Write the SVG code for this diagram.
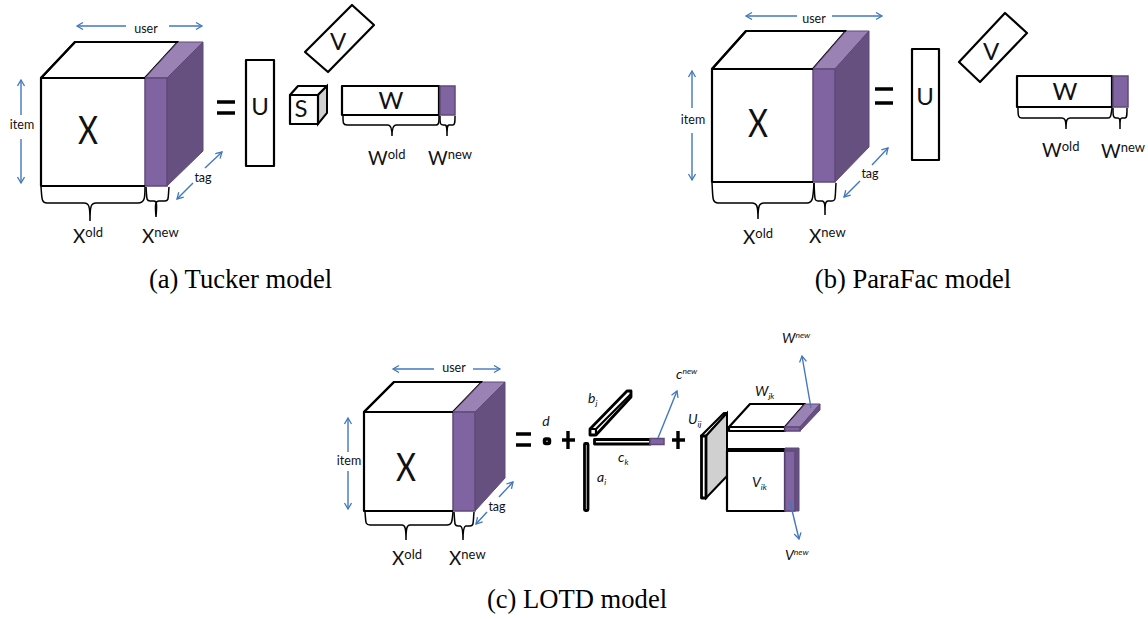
<svg xmlns="http://www.w3.org/2000/svg" width="1148" height="619" viewBox="0 0 1148 619">
<defs>
<marker id="ah" markerWidth="9" markerHeight="9" refX="7" refY="4" orient="auto-start-reverse" markerUnits="userSpaceOnUse"><path d="M1 0.5L7 4L1 7.5" fill="none" stroke="#4178be" stroke-width="1.3"/></marker>
</defs>
<style>
.k{fill:#fff;stroke:#000;stroke-width:2.2;stroke-linejoin:round}
.n{fill:none;stroke:#000;stroke-width:2.2;stroke-linejoin:round}
.t{fill:#fff;stroke:#000;stroke-width:2.2;stroke-linejoin:round}
.h{fill:#fff;stroke:#000;stroke-width:2.8;stroke-linejoin:round}
.b{fill:none;stroke:#000;stroke-width:1.5}
.pf{fill:#8064a2;stroke:#5f497a;stroke-width:1.5}
.pt{fill:#9b82b5;stroke:#5f497a;stroke-width:1}
.pr{fill:#65507f;stroke:#5f497a;stroke-width:1}
.g{fill:#d0d0d0;stroke:#000;stroke-width:2}
.a1{fill:none;stroke:#4178be;stroke-width:1.4;marker-end:url(#ah)}
.e{fill:none;stroke:#000;stroke-width:3.4}
text{font-family:"Lato","Liberation Sans",sans-serif;fill:#111}
.s{font-size:12.5px;text-anchor:middle}
.big{font-size:38px;text-anchor:middle}
.m{font-size:24px;text-anchor:middle}
.x{font-size:19px}
.sup{font-size:13px}
.i{font-style:italic;font-size:14px}
.is{font-style:italic;font-size:8.500px}
.c{font-family:"Liberation Serif","Times New Roman",serif;font-size:26.6px;text-anchor:middle;fill:#000}
</style>

<g id="tensor-a">
<path class="t" d="M41 78L75 42H178L145 78Z"/>
<path class="pt" d="M145 78L178 42H203L167 78Z"/>
<path class="pr" d="M167 78L203 42V151L167 186Z"/>
<rect class="pf" x="145" y="78" width="22" height="108"/>
<path class="n" d="M145 186H41V78H145M41 78L75 42H178"/>
<text class="big" x="88" y="144" textLength="20" lengthAdjust="spacingAndGlyphs">X</text>
<path class="b" d="M41 187C42 197 41 203 47 203H84C89 203 90 206 90 221M90 221C90 206 91 203 96 203H138C145 203 145 197 145 187"/>
<path class="b" d="M146 187C147 198 146 201 150 201H154C157 201 157 205 156 217M156 217C155 205 155 201 159 201H165C169 201 168 198 169 187"/>
<text x="73" y="243"><tspan class="x">X</tspan><tspan class="sup" dy="-6">old</tspan></text>
<text x="142" y="243"><tspan class="x">X</tspan><tspan class="sup" dy="-6">new</tspan></text>
</g>
<g id="labels-a">
<text class="s" x="146" y="33">user</text>
<text class="s" x="22" y="129">item</text>
<text class="s" x="203" y="182">tag</text>
</g>
<g id="factors-a">
<rect class="k" x="246" y="60" width="28" height="106"/>
<text class="m" x="260" y="115">U</text>
<path class="k" d="M305 52L352 5L374 25L328 72Z"/>
<text class="m" x="338" y="50">V</text>
<path class="k" d="M290 95L298 86H327L318 95Z"/>
<path class="g" d="M318 95L327 86V113L318 124Z"/>
<rect class="k" x="290" y="95" width="28" height="29"/>
<text class="m" x="301" y="117">S</text>
<rect class="k" x="342" y="86" width="97" height="29"/>
<rect class="pf" x="440" y="86" width="15" height="29"/>
<text class="m" x="391" y="109">W</text>
<path class="b" d="M343 116C343 123 343 125 347 125H388C391 125 392 128 392 136M392 136C392 128 393 125 396 125H436C439 125 439 122 439 116"/>
<path class="b" d="M440 116C440 123 440 125 443 125H445C447 125 447 128 447 136M447 136C447 128 447 125 449 125H453C455 125 455 122 455 116"/>
<text x="368" y="165"><tspan class="x">W</tspan><tspan class="sup" dy="-6">old</tspan></text>
<text x="428" y="165"><tspan class="x">W</tspan><tspan class="sup" dy="-6">new</tspan></text>
</g>

<g id="tensor-b">
<path class="t" d="M712 69L746 31H846L813 69Z"/>
<path class="pt" d="M813 69L846 31H869L835 69Z"/>
<path class="pr" d="M835 69L869 31V147L835 182Z"/>
<rect class="pf" x="813" y="69" width="22" height="113"/>
<path class="n" d="M813 182H712V69H813M712 69L746 31H846"/>
<text class="big" x="758" y="137" textLength="20" lengthAdjust="spacingAndGlyphs">X</text>
<path class="b" d="M712 183C713 198 712 203 718 203H752C757 203 758 206 758 219M758 219C758 206 759 203 764 203H807C813 203 813 198 814 183"/>
<path class="b" d="M814 183C815 198 814 201 818 201H822C825 201 825 205 825 215M825 215C825 205 825 201 828 201H832C836 201 835 198 836 183"/>
<text x="743" y="244"><tspan class="x">X</tspan><tspan class="sup" dy="-6">old</tspan></text>
<text x="809" y="243"><tspan class="x">X</tspan><tspan class="sup" dy="-6">new</tspan></text>
</g>
<g id="labels-b">
<text class="s" x="814" y="23">user</text>
<text class="s" x="693" y="124">item</text>
<text class="s" x="870" y="178">tag</text>
</g>
<g id="factors-b">
<rect class="k" x="912" y="49" width="27" height="111"/>
<text class="m" x="925" y="105">U</text>
<path class="k" d="M959 62L1005 13L1027 33L980 82Z"/>
<text class="m" x="991" y="60">V</text>
<rect class="k" x="1017" y="76" width="95" height="31"/>
<rect class="pf" x="1113" y="76" width="15" height="31"/>
<text class="m" x="1065" y="100">W</text>
<path class="b" d="M1018 108C1018 115 1018 118 1022 118H1062C1065 118 1066 120 1066 129M1066 129C1066 120 1067 118 1070 118H1108C1111 118 1111 115 1112 108"/>
<path class="b" d="M1113 108C1113 115 1113 118 1116 118H1118C1120 118 1120 120 1120 129M1120 129C1120 120 1120 118 1122 118H1125C1127 118 1127 115 1127 108"/>
<text x="1042" y="157"><tspan class="x">W</tspan><tspan class="sup" dy="-6">old</tspan></text>
<text x="1101" y="158"><tspan class="x">W</tspan><tspan class="sup" dy="-6">new</tspan></text>
</g>

<g id="tensor-c">
<path class="t" d="M364 412L394 382H482L453 412Z"/>
<path class="pt" d="M453 412L482 382H505L475 412Z"/>
<path class="pr" d="M475 412L505 382V478L475 511Z"/>
<rect class="pf" x="453" y="412" width="22" height="99"/>
<path class="n" d="M453 511H364V412H453M364 412L394 382H482"/>
<text class="big" x="406" y="481" textLength="20" lengthAdjust="spacingAndGlyphs">X</text>
<path class="b" d="M365 512C366 522 365 525 370 525H402C405 525 406 528 406 540M406 540C406 528 407 525 410 525H447C452 525 452 522 453 512"/>
<path class="b" d="M454 512C455 523 454 526 458 526H460C462 526 463 530 463 540M463 540C463 530 464 526 466 526H470C474 526 473 523 474 512"/>
<text x="392" y="565"><tspan class="x">X</tspan><tspan class="sup" dy="-6">old</tspan></text>
<text x="449" y="565"><tspan class="x">X</tspan><tspan class="sup" dy="-6">new</tspan></text>
</g>
<g id="labels-c">
<text class="s" x="454" y="372">user</text>
<text class="s" x="349" y="465">item</text>
<text class="s" x="497" y="511">tag</text>
</g>
<g id="factors-c">
<rect x="544.500" y="439" width="5" height="4.500" rx="1.500" fill="#fff" stroke="#000" stroke-width="3.500"/>
<text class="i" x="546" y="426" text-anchor="middle">d</text>
<path class="h" d="M590 429L627 391H631V397L596 435H590Z"/>
<path class="n" d="M590 429H596V435M596 429L631 394"/>
<text class="i" x="588" y="403">b<tspan class="is" dy="3">j</tspan></text>
<rect class="h" x="584.500" y="443.500" width="3.500" height="67" rx="1"/>
<text class="i" x="597" y="482">a<tspan class="is" dy="3">i</tspan></text>
<rect class="h" x="594.500" y="439.500" width="56" height="4.500"/>
<path class="pf" d="M650 438.500H664V444.500H650Z"/>
<text class="i" x="618" y="462">c<tspan class="is" dy="3">k</tspan></text>
<text x="676" y="379" class="i">c<tspan class="is" dy="-5">new</tspan></text>
<path class="k" d="M701 436L724 413H727L706 436Z"/>
<path class="g" d="M706 436L727 413V476L706 498Z"/>
<rect class="h" x="701.500" y="436" width="4.500" height="62"/>
<text class="i" x="688" y="424">U<tspan class="is" dy="3">ij</tspan></text>
<path class="k" d="M729 427L750 404H805L785 427Z"/>
<rect class="k" x="729" y="427" width="56" height="4"/>
<path class="pt" d="M785 427L805 404H820L800 427Z"/>
<path class="pr" d="M800 427L820 404V410L800 431Z"/>
<rect class="pf" x="785" y="427" width="15" height="4"/>
<text class="i" x="755" y="396">W<tspan class="is" dy="3">jk</tspan></text>
<text x="782" y="343" class="i">W<tspan class="is" dy="-5">new</tspan></text>
<rect x="727" y="448" width="60" height="3" fill="#000"/>
<rect class="k" x="727" y="451" width="58" height="60"/>
<path class="pr" d="M785 448H799V511H785Z"/>
<rect class="pf" x="785" y="451" width="10" height="60"/>
<text class="i" x="752" y="487">V<tspan class="is" dy="3">ik</tspan></text>
<text x="785" y="560" class="i">V<tspan class="is" dy="-5">new</tspan></text>
</g>

<g id="connectors">
<path class="e" d="M217 102H235M217 113H235"/>
<path class="e" d="M875 89H893M875 103H893"/>
<path class="e" d="M516 434H531M516 445H531"/>
<path class="e" d="M562 440H575M568 431V449M672 440H685M678 431V449"/>
<path class="a1" d="M126 26H77"/><path class="a1" d="M169 26H202"/>
<path class="a1" d="M21 115V80"/><path class="a1" d="M21 139V183"/>
<path class="a1" d="M193 183L177 199"/><path class="a1" d="M205 168L222 152"/>
<path class="a1" d="M797 16H746"/><path class="a1" d="M832 16H882"/>
<path class="a1" d="M692 108V71"/><path class="a1" d="M692 133V180"/>
<path class="a1" d="M860 181L844 197"/><path class="a1" d="M872 165L888 148"/>
<path class="a1" d="M434 369H393"/><path class="a1" d="M473 369H500"/>
<path class="a1" d="M348 452V418"/><path class="a1" d="M348 471V509"/>
<path class="a1" d="M487 512L476 524"/><path class="a1" d="M499 497L513 482"/>
<path class="a1" d="M658 438L677 391"/>
<path class="a1" d="M811 408L802 356"/>
<path class="a1" d="M790 502L799 539"/>
</g>

<g id="captions">
<text class="c" x="240.500" y="287.500">(a) Tucker model</text>
<text class="c" x="913" y="287.500">(b) ParaFac model</text>
<text class="c" x="577" y="607.500">(c) LOTD model</text>
</g>
</svg>
